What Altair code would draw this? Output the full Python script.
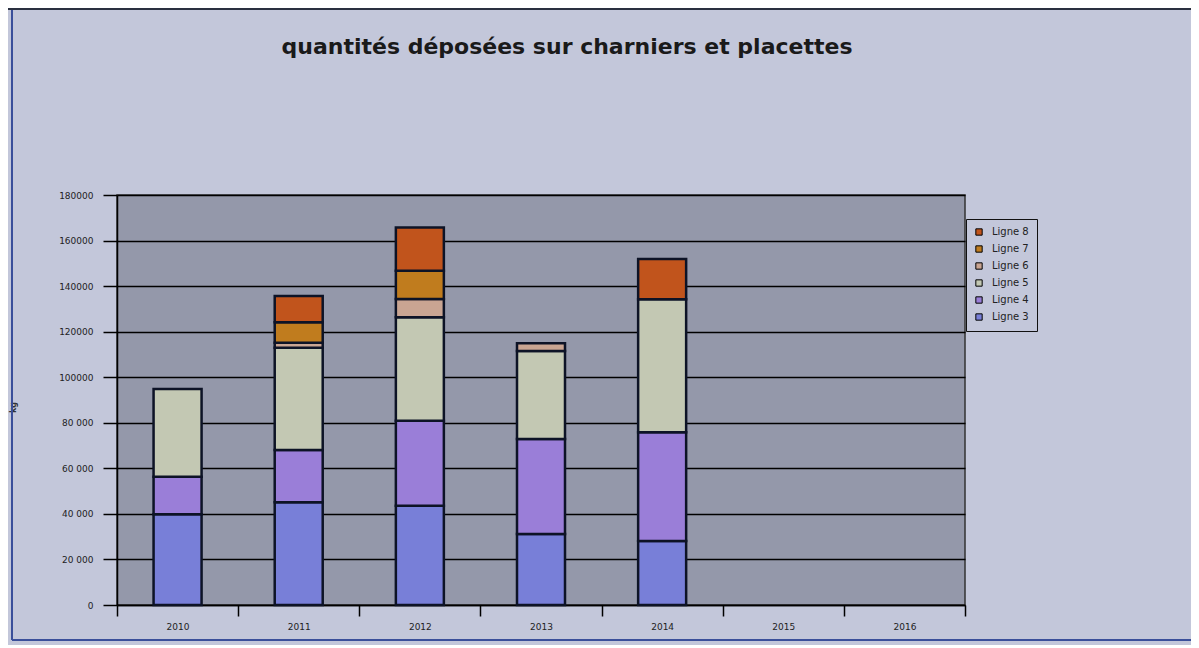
import altair as alt
import pandas as pd

years = ["2010", "2011", "2012", "2013", "2014", "2015", "2016"]
series_names = ["Ligne 3", "Ligne 4", "Ligne 5", "Ligne 6", "Ligne 7", "Ligne 8"]
ligne3 = [39800, 45100, 43600, 31200, 28100, None, None]
ligne4 = [16500, 22950, 37300, 41700, 47700, None, None]
ligne5 = [38500, 44900, 45400, 38600, 58400, None, None]
ligne6 = [None, 2200, 8000, 3400, None, None, None]
ligne7 = [None, 8950, 12450, None, None, None, None]
ligne8 = [None, 11550, 19000, None, 17700, None, None]
colors = ["#787fd8", "#9a7ed8", "#c3c8b3", "#c9a592", "#c07c1e", "#c1541c"]
y_ticks = [0, 20000, 40000, 60000, 80000, 100000, 120000, 140000, 160000, 180000]

rows = []
for idx, (name, vals) in enumerate(zip(series_names, [ligne3, ligne4, ligne5, ligne6, ligne7, ligne8])):
    for yr, v in zip(years, vals):
        if v is not None:
            rows.append({"annee": yr, "serie": name, "ordre": idx, "valeur": v})
df = pd.DataFrame(rows)

legend_domain = series_names[::-1]
legend_range = colors[::-1]

bars = alt.Chart(df).mark_bar(size=48, stroke="#0d1326", strokeWidth=2.5).encode(
    x=alt.X("annee:N", scale=alt.Scale(domain=years, paddingInner=0, paddingOuter=0),
            axis=alt.Axis(title=None, labelAngle=0, tickBand="extent", tickSize=11,
                          tickColor="#000", domainColor="#000", domainWidth=1.5, tickWidth=1.5,
                          labelFont="DejaVu Sans", labelFontSize=9, labelColor="#222",
                          labelPadding=6, grid=False)),
    y=alt.Y("valeur:Q", stack="zero",
            scale=alt.Scale(domain=[0, 180000], nice=False),
            axis=alt.Axis(title="kg", values=y_ticks, tickSize=14, tickColor="#000",
                          tickWidth=1.5, domainColor="#000", domainWidth=1.5,
                          gridColor="#000", gridWidth=1.5, grid=True,
                          labelFont="DejaVu Sans", labelFontSize=9, labelColor="#222",
                          labelPadding=10,
                          labelExpr="datum.value >= 100000 ? '' + datum.value : replace(format(datum.value, ','), ',', ' ')",
                          titleFont="DejaVu Sans", titleFontSize=8, titleFontWeight="bold",
                          titleColor="#333", titleX=-100, titleY=212, titleAngle=270)),
    color=alt.Color("serie:N", scale=alt.Scale(domain=legend_domain, range=legend_range),
                    legend=alt.Legend(title=None, orient="none", legendX=849, legendY=24,
                                      symbolType="square", symbolSize=40,
                                      symbolStrokeColor="#000", symbolStrokeWidth=1,
                                      labelFont="DejaVu Sans", labelFontSize=10,
                                      labelColor="#222", rowPadding=5, padding=8,
                                      labelOffset=8,
                                      strokeColor="#111", fillColor="#c3c7da",
                                      symbolOpacity=1)),
    order=alt.Order("ordre:Q", sort="ascending"),
)

frame_df = pd.DataFrame({"k": [0]})
left_line = alt.Chart(frame_df).mark_rule(color="#3a4f9a", strokeWidth=2).encode(
    x=alt.value(-105), y=alt.value(-187), y2=alt.value(445))
bottom_line = alt.Chart(frame_df).mark_rule(color="#3a4f9a", strokeWidth=2).encode(
    x=alt.value(-105), x2=alt.value(1082), y=alt.value(445))
top_line = alt.Chart(frame_df).mark_rule(color="#2a3040", strokeWidth=2).encode(
    x=alt.value(-117), x2=alt.value(1082), y=alt.value(-186))

chart = alt.layer(bars, left_line, bottom_line, top_line).properties(
    width=848, height=410,
    title=alt.TitleParams("quantités déposées sur charniers et placettes",
                          font="DejaVu Sans", fontSize=22, fontWeight="bold",
                          color="#1a1a1a", anchor="middle", frame="group",
                          offset=0, dx=26, dy=52),
    autosize=alt.AutoSizeParams(type="none"),
    padding={"left": 109, "top": 187, "right": 226, "bottom": 40},
    background="#c3c7da",
).configure_view(fill="#9498aa", stroke="#333", strokeWidth=1.5)

chart.save("out.html", embed_options={"renderer": "svg", "actions": False})
